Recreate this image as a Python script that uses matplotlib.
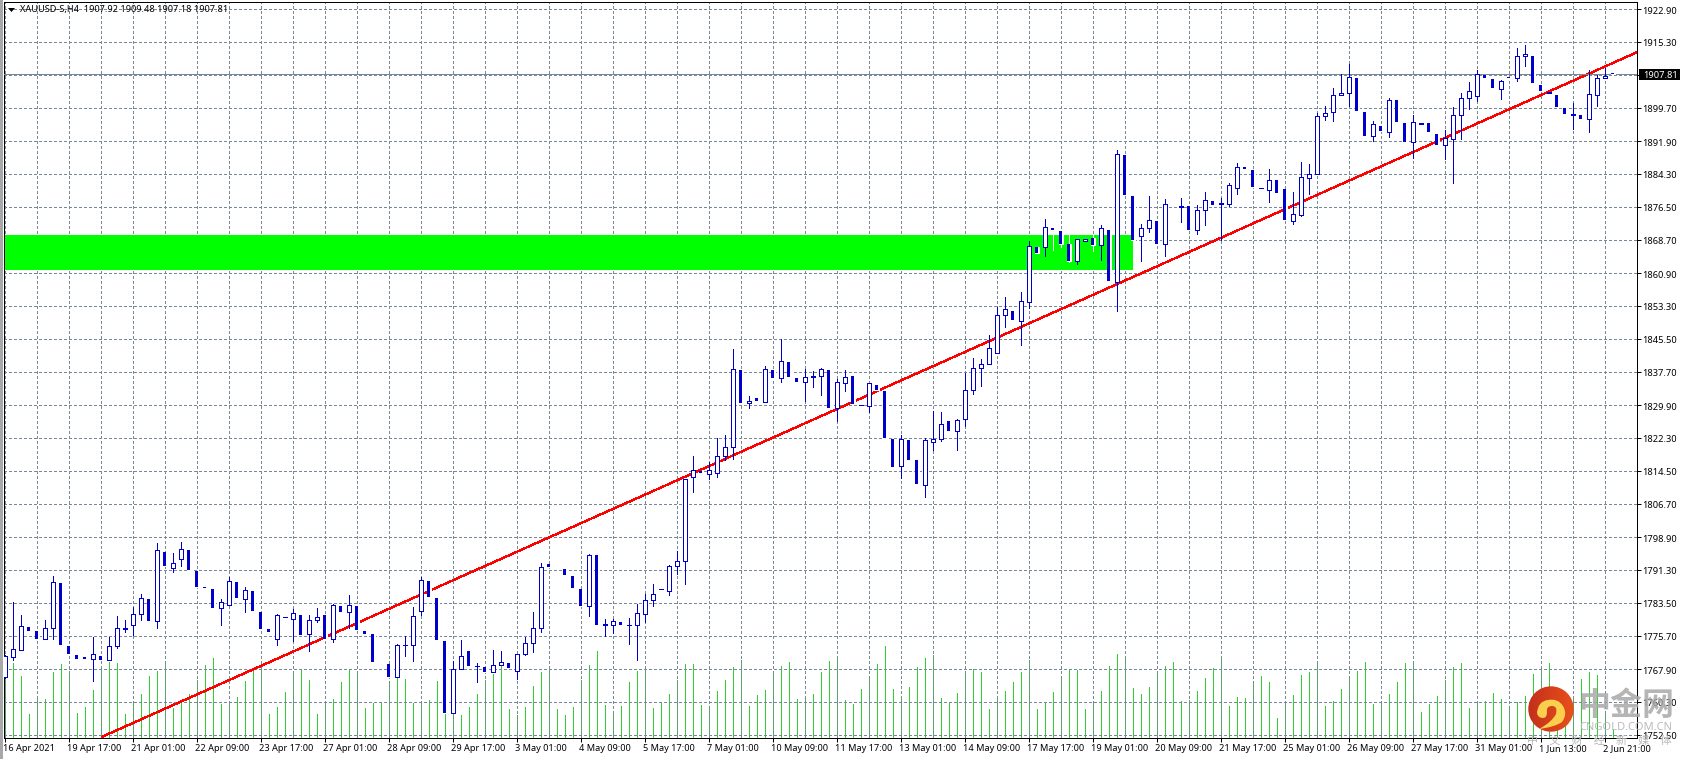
import matplotlib
matplotlib.use("Agg")
import matplotlib.pyplot as plt
import numpy as np
from matplotlib.colors import LinearSegmentedColormap
from matplotlib.patches import Circle, PathPatch, Polygon, Rectangle
from matplotlib.path import Path
from matplotlib.transforms import ScaledTranslation

# XAUUSD H4 candles, one row of ten per line
opens = [
    1766.1, 1770.8, 1772.4, 1777.9, 1776.9, 1775.0, 1777.6, 1788.2, 1773.4, 1771.3,
    1770.8, 1770.3, 1771.1, 1770.0, 1773.3, 1777.4, 1778.2, 1780.8, 1784.5, 1779.2,
    1795.5, 1791.8, 1793.8, 1796.0, 1791.0, 1787.2, 1786.8, 1782.2, 1783.1, 1788.5,
    1784.5, 1786.3, 1781.4, 1777.4, 1775.1, 1780.1, 1779.8, 1780.7, 1776.1, 1779.4,
    1780.7, 1775.0, 1782.8, 1781.3, 1782.8, 1776.9, 1776.2, 1769.4, 1769.2, 1766.0,
    1773.5, 1773.6, 1781.5, 1788.7, 1784.7, 1774.6, 1757.6, 1767.9, 1772.3, 1768.6,
    1768.4, 1767.2, 1768.9, 1769.4, 1767.4, 1771.6, 1774.0, 1777.5, 1792.7, 1791.8,
    1791.5, 1789.9, 1786.8, 1782.7, 1794.8, 1778.4, 1778.3, 1779.1, 1778.2, 1778.2,
    1781.0, 1784.1, 1786.7, 1786.4, 1792.1, 1793.3, 1813.0, 1814.5, 1813.7, 1814.1,
    1818.1, 1820.1, 1838.3, 1830.4, 1831.7, 1830.8, 1838.3, 1836.3, 1840.1, 1836.4,
    1835.5, 1836.5, 1836.7, 1838.3, 1829.2, 1835.1, 1836.8, 1829.9, 1829.7, 1834.7,
    1833.3, 1822.1, 1815.6, 1821.8, 1817.1, 1811.3, 1821.4, 1821.9, 1826.3, 1823.8,
    1826.6, 1833.5, 1838.7, 1839.6, 1842.1, 1851.1, 1852.0, 1849.8, 1854.1, 1867.1,
    1867.1, 1871.6, 1870.9, 1867.7, 1863.8, 1868.6, 1869.1, 1867.5, 1871.1, 1858.8,
    1888.8, 1879.1, 1869.6, 1871.5, 1873.3, 1867.7, 1877.3, 1876.6, 1876.8, 1871.0,
    1875.9, 1878.0, 1877.1, 1877.3, 1880.9, 1885.9, 1885.2, 1880.9, 1880.6, 1882.9,
    1880.8, 1873.3, 1874.7, 1883.4, 1884.2, 1897.8, 1898.7, 1902.7, 1903.2, 1906.9,
    1898.9, 1893.1, 1895.6, 1894.2, 1901.7, 1896.3, 1891.7, 1896.1, 1896.3, 1893.7,
    1891.0, 1892.4, 1898.0, 1902.2, 1902.5, 1907.5, 1906.6, 1904.3, 1907.0, 1906.8,
    1911.9, 1912.0, 1905.2, 1903.3, 1902.9, 1899.8, 1898.2, 1898.2, 1897.1, 1902.9,
    1906.7, 1907.92,
]
highs = [
    1771.3, 1783.8, 1780.6, 1777.9, 1776.9, 1779.5, 1789.8, 1788.2, 1773.4, 1771.3,
    1770.8, 1775.5, 1771.1, 1775.6, 1780.5, 1779.5, 1782.5, 1785.6, 1784.5, 1797.6,
    1795.5, 1795.3, 1797.9, 1796.0, 1791.0, 1787.2, 1786.8, 1784.5, 1789.6, 1788.5,
    1787.2, 1786.3, 1781.4, 1777.4, 1780.9, 1780.2, 1782.1, 1780.7, 1780.7, 1782.4,
    1780.7, 1783.3, 1782.8, 1785.4, 1782.8, 1776.9, 1776.2, 1769.4, 1769.2, 1773.8,
    1775.8, 1782.6, 1789.6, 1788.7, 1784.7, 1774.6, 1769.8, 1774.8, 1772.3, 1769.4,
    1768.4, 1772.5, 1772.3, 1769.4, 1771.5, 1775.5, 1781.4, 1792.8, 1792.7, 1791.8,
    1791.5, 1789.9, 1786.8, 1795.0, 1794.8, 1779.8, 1779.8, 1779.1, 1780.0, 1783.3,
    1785.6, 1788.0, 1786.8, 1792.4, 1795.7, 1812.7, 1818.1, 1814.5, 1816.6, 1822.3,
    1823.0, 1843.2, 1838.3, 1832.2, 1831.7, 1839.1, 1838.3, 1845.5, 1840.1, 1836.4,
    1838.5, 1837.9, 1838.7, 1838.3, 1836.1, 1838.3, 1836.8, 1830.0, 1835.1, 1834.7,
    1833.3, 1822.1, 1823.0, 1821.8, 1817.1, 1822.2, 1828.6, 1828.4, 1826.3, 1826.7,
    1837.5, 1841.1, 1840.8, 1846.5, 1853.0, 1855.3, 1852.0, 1856.5, 1868.4, 1867.1,
    1873.7, 1871.6, 1870.9, 1870.0, 1869.0, 1868.9, 1870.0, 1872.3, 1871.1, 1889.9,
    1888.8, 1879.1, 1872.6, 1879.1, 1873.3, 1878.4, 1877.3, 1878.7, 1876.8, 1876.9,
    1880.1, 1878.0, 1878.7, 1882.1, 1886.8, 1885.9, 1885.2, 1881.0, 1885.5, 1882.9,
    1880.8, 1880.1, 1887.1, 1886.6, 1898.5, 1900.3, 1904.5, 1907.8, 1910.1, 1906.9,
    1898.9, 1896.7, 1895.6, 1902.2, 1901.7, 1896.3, 1898.2, 1896.2, 1896.3, 1893.7,
    1894.6, 1900.0, 1903.3, 1905.9, 1908.7, 1907.5, 1906.6, 1906.4, 1907.0, 1913.8,
    1914.6, 1912.0, 1905.2, 1903.4, 1902.9, 1899.8, 1901.0, 1898.2, 1908.7, 1907.5,
    1909.1, 1909.48,
]
lows = [
    1765.9, 1770.0, 1772.4, 1776.9, 1775.1, 1775.0, 1775.1, 1773.7, 1771.5, 1770.4,
    1770.4, 1765.2, 1770.1, 1770.0, 1772.9, 1776.7, 1776.0, 1779.5, 1779.3, 1777.5,
    1792.1, 1790.8, 1792.2, 1791.3, 1787.3, 1787.1, 1782.4, 1778.4, 1783.1, 1784.7,
    1781.4, 1781.6, 1777.4, 1776.7, 1773.7, 1780.1, 1774.6, 1776.0, 1772.3, 1779.1,
    1775.1, 1774.4, 1781.4, 1777.7, 1777.2, 1776.2, 1769.7, 1769.3, 1766.1, 1766.0,
    1771.1, 1769.8, 1780.7, 1784.9, 1774.8, 1757.7, 1757.6, 1767.9, 1768.7, 1765.0,
    1767.3, 1767.2, 1768.9, 1768.3, 1765.6, 1771.3, 1772.0, 1776.7, 1792.0, 1791.7,
    1790.1, 1787.1, 1782.8, 1780.5, 1778.4, 1775.8, 1776.4, 1778.4, 1773.9, 1770.1,
    1779.1, 1782.8, 1786.7, 1785.4, 1790.3, 1788.0, 1809.6, 1814.1, 1812.7, 1813.1,
    1817.1, 1817.3, 1830.5, 1829.3, 1831.0, 1830.8, 1836.4, 1835.4, 1836.6, 1835.4,
    1831.0, 1834.3, 1832.4, 1829.3, 1826.3, 1833.3, 1830.3, 1829.9, 1828.4, 1833.6,
    1822.3, 1815.5, 1812.9, 1817.1, 1811.5, 1808.4, 1819.5, 1821.6, 1823.9, 1819.5,
    1825.1, 1832.6, 1834.5, 1839.6, 1842.1, 1848.4, 1850.0, 1844.0, 1852.8, 1865.6,
    1865.1, 1866.4, 1867.0, 1863.6, 1863.0, 1868.6, 1866.2, 1864.1, 1859.0, 1852.0,
    1879.4, 1868.8, 1863.7, 1870.7, 1867.9, 1865.0, 1877.2, 1873.0, 1871.1, 1870.2,
    1872.3, 1877.0, 1868.8, 1876.8, 1879.6, 1885.5, 1881.2, 1880.9, 1877.7, 1879.8,
    1873.5, 1872.6, 1874.3, 1879.6, 1884.2, 1897.0, 1896.7, 1902.7, 1900.3, 1899.1,
    1893.2, 1892.1, 1894.4, 1893.0, 1896.5, 1891.8, 1888.1, 1896.1, 1894.2, 1891.1,
    1887.8, 1882.2, 1892.5, 1899.6, 1901.4, 1906.9, 1904.5, 1901.9, 1906.9, 1906.0,
    1909.7, 1905.7, 1903.8, 1903.3, 1900.0, 1898.4, 1894.8, 1897.2, 1894.2, 1900.3,
    1906.7, 1907.18,
]
closes = [
    1771.1, 1772.6, 1778.1, 1776.9, 1775.1, 1777.6, 1788.4, 1773.7, 1771.5, 1770.4,
    1770.4, 1771.5, 1770.1, 1773.3, 1777.6, 1777.6, 1780.9, 1784.6, 1779.3, 1795.9,
    1792.1, 1792.8, 1796.1, 1791.3, 1787.3, 1787.1, 1782.4, 1783.7, 1788.6, 1784.7,
    1786.6, 1781.6, 1777.4, 1776.7, 1780.6, 1780.2, 1781.1, 1776.0, 1779.5, 1780.2,
    1775.1, 1783.0, 1781.4, 1783.0, 1777.2, 1776.2, 1769.7, 1769.3, 1766.1, 1773.6,
    1773.6, 1780.4, 1788.9, 1784.9, 1774.8, 1757.7, 1767.9, 1771.0, 1768.7, 1768.7,
    1767.3, 1768.9, 1769.6, 1768.3, 1771.5, 1774.1, 1777.6, 1791.9, 1792.0, 1791.7,
    1790.1, 1787.1, 1782.8, 1794.7, 1778.4, 1778.6, 1779.2, 1778.4, 1778.3, 1781.1,
    1784.2, 1785.6, 1786.8, 1792.1, 1793.3, 1812.7, 1814.7, 1814.1, 1814.7, 1818.0,
    1820.1, 1838.4, 1830.5, 1830.9, 1831.0, 1838.4, 1836.4, 1840.3, 1836.6, 1835.4,
    1836.5, 1836.8, 1838.4, 1829.3, 1835.4, 1836.5, 1830.3, 1830.0, 1835.1, 1833.6,
    1822.3, 1815.5, 1822.0, 1817.1, 1811.5, 1821.7, 1822.0, 1825.5, 1823.9, 1826.4,
    1833.5, 1838.7, 1839.6, 1843.3, 1851.1, 1852.5, 1850.0, 1854.4, 1867.3, 1865.6,
    1871.8, 1871.1, 1867.8, 1863.9, 1869.0, 1868.9, 1867.5, 1871.5, 1859.0, 1888.9,
    1879.4, 1868.8, 1871.5, 1873.4, 1867.9, 1877.2, 1877.2, 1876.7, 1871.1, 1875.8,
    1878.1, 1877.0, 1877.5, 1881.6, 1885.9, 1885.5, 1881.2, 1881.0, 1882.8, 1879.8,
    1873.5, 1874.8, 1883.5, 1884.2, 1897.8, 1898.6, 1902.8, 1903.2, 1907.0, 1899.1,
    1893.2, 1896.0, 1894.4, 1901.6, 1896.5, 1891.8, 1896.4, 1896.2, 1894.2, 1891.1,
    1892.8, 1898.1, 1902.1, 1903.7, 1907.8, 1906.9, 1904.5, 1906.1, 1906.9, 1911.9,
    1912.4, 1905.7, 1903.8, 1903.4, 1900.0, 1898.4, 1898.3, 1897.2, 1903.0, 1906.8,
    1907.3, 1907.81,
]
volumes = [
    60, 75, 62, 24, 40, 39, 66, 74, 66, 25, 31, 48, 69, 76, 75, 24, 35, 44, 62, 67,
    75, 30, 35, 44, 58, 73, 80, 34, 35, 41, 57, 69, 71, 24, 31, 46, 64, 69, 58, 24,
    34, 39, 56, 68, 65, 30, 35, 36, 57, 63, 59, 35, 34, 38, 57, 70, 63, 23, 31, 44,
    58, 64, 72, 29, 23, 31, 52, 66, 69, 29, 23, 31, 58, 73, 87, 33, 24, 32, 56, 67,
    68, 30, 35, 44, 58, 74, 74, 33, 30, 47, 58, 71, 78, 32, 43, 48, 64, 72, 76, 39,
    40, 44, 66, 77, 82, 38, 34, 49, 61, 74, 92, 49, 41, 51, 71, 80, 83, 40, 36, 45,
    66, 69, 66, 29, 40, 47, 56, 66, 78, 29, 36, 46, 59, 69, 68, 29, 36, 47, 72, 84,
    82, 50, 44, 51, 67, 72, 76, 37, 38, 47, 60, 70, 79, 32, 41, 40, 54, 62, 56, 20,
    37, 43, 63, 66, 77, 32, 37, 49, 61, 67, 76, 34, 36, 44, 56, 75, 77, 26, 34, 42,
    58, 71, 75, 30, 35, 37, 45, 39, 29, 36, 42, 64, 69, 75, 45, 42, 42, 59, 66, 63,
    25, 9,
]

x_labels = [
    "16 Apr 2021", "19 Apr 17:00", "21 Apr 01:00", "22 Apr 09:00", "23 Apr 17:00",
    "27 Apr 01:00", "28 Apr 09:00", "29 Apr 17:00", "3 May 01:00", "4 May 09:00",
    "5 May 17:00", "7 May 01:00", "10 May 09:00", "11 May 17:00", "13 May 01:00",
    "14 May 09:00", "17 May 17:00", "19 May 01:00", "20 May 09:00", "21 May 17:00",
    "25 May 01:00", "26 May 09:00", "27 May 17:00", "31 May 01:00", "1 Jun 13:00",
    "2 Jun 21:00",
]
y_ticks = [
    1922.90, 1915.30, 1907.50, 1899.70, 1891.90, 1884.30, 1876.50, 1868.70, 1860.90,
    1853.30, 1845.50, 1837.70, 1829.90, 1822.30, 1814.50, 1806.70, 1798.90, 1791.30,
    1783.50, 1775.70, 1767.90, 1760.30, 1752.50,
]
trend_x = [12.25, 204]
trend_y = [1752.1, 1912.8]
zone_x = [-0.2, 141]
zone_y = [1861.75, 1869.97]
last_price = 1907.81

BLUE = "#0000cd"
GRID = "#778899"
W, H = 1685, 759
LEFT, RIGHT, TOP, BOTTOM = 4, 1637, 2, 738
PX = 0.72  # one pixel in points at dpi 100

plt.rcParams["font.family"] = ["Noto Sans", "DejaVu Sans"]
fig = plt.figure(figsize=(W / 100, H / 100), dpi=100, facecolor="white")
rect = [LEFT / W, 1 - BOTTOM / H, (RIGHT - LEFT) / W, (BOTTOM - TOP) / H]

# volumes sit on their own scale below the price axes
ax_vol = fig.add_axes(rect, zorder=1)
ax = fig.add_axes(rect, zorder=2)
ax.patch.set_visible(False)
ax_vol.axis("off")

idx = np.arange(len(closes))
xlim = ((LEFT - 4.5) / 8, (RIGHT - 4.5) / 8)
ax.set_xlim(xlim)
ax_vol.set_xlim(xlim)
ax.set_ylim(1925.17 - 0.2349 * (BOTTOM + 0.2), 1925.17 - 0.2349 * (TOP + 0.2))
ax_vol.set_ylim(0, BOTTOM - TOP)

ax_vol.vlines(idx, 0, volumes, color="#32cd32", lw=PX, antialiased=False)

ax.add_patch(Rectangle((zone_x[0], zone_y[0]), zone_x[1] - zone_x[0], zone_y[1] - zone_y[0],
                       facecolor="#00ff00", edgecolor="none", zorder=1))

ax.set_xticks(idx[::8])
ax.set_xticks(np.arange(4, 204, 8), minor=True)
ax.set_xticklabels(x_labels, fontsize=6.6, ha="left")
ax.set_yticks(y_ticks)
ax.set_yticklabels(["" if v == 1907.50 else f"{v:.2f}" for v in y_ticks], fontsize=6.7)
ax.yaxis.tick_right()
ax.tick_params(axis="both", which="major", length=3, width=PX, pad=1.5, color="black")
ax.tick_params(axis="y", pad=0.5)
ax.tick_params(axis="x", which="minor", length=0)
shift_x = ScaledTranslation(-1.5 / 100, 0, fig.dpi_scale_trans)
for lab in ax.get_xticklabels():
    lab.set_transform(lab.get_transform() + shift_x)
shift_y = ScaledTranslation(0, -0.7 / 100, fig.dpi_scale_trans)
for lab in ax.get_yticklabels():
    lab.set_transform(lab.get_transform() + shift_y)
ax.grid(True, which="both", color=GRID, lw=PX, linestyle=(0, (2.5, 2.5)), antialiased=False, zorder=2)
ax.set_axisbelow(True)
for sp in ax.spines.values():
    sp.set_linewidth(PX)
    sp.set_color("black")

ax.plot(trend_x, trend_y, color="#ff0000", lw=1.3 * PX, antialiased=False, zorder=3)
ax.axhline(last_price, color=GRID, lw=PX, antialiased=False, zorder=3)

o, h, l, c = map(np.array, (opens, highs, lows, closes))
up = c >= o
ax.vlines(idx[up], l[up], h[up], color=BLUE, lw=PX, antialiased=False, zorder=4)
ax.vlines(idx[~up], l[~up], h[~up], color="white", lw=PX, antialiased=False, zorder=4)
ax.bar(idx[up], (c - o)[up], 0.5, bottom=o[up], facecolor="white", edgecolor=BLUE,
       lw=PX, antialiased=False, zorder=5)
# falling bars: white outline, then the blue fill on top so thin ones survive
ax.bar(idx[~up], (o - c)[~up], 0.5, bottom=c[~up], facecolor="white", edgecolor="white",
       lw=PX, antialiased=False, zorder=5)
ax.bar(idx[~up], (o - c)[~up], 0.375, bottom=c[~up], facecolor=BLUE, edgecolor="none",
       antialiased=False, zorder=6)

# everything below is placed in picture pixels: header, price box, watermark
top = fig.add_axes([0, 0, 1, 1], zorder=5)
top.axis("off")

top.add_patch(Rectangle((0, 0), 2.5, H, facecolor="#a8a8a8", edgecolor="none"))
top.add_patch(Polygon([(8, 8), (15, 8), (11.5, 12)], facecolor="black", edgecolor="none"))
top.text(20, 9.5, "XAUUSD-S,H4  1907.92 1909.48 1907.18 1907.81", fontsize=6.6, va="center", color="black")

top.add_patch(Rectangle((1639, 69), 41, 11, facecolor="black", edgecolor="none"))
top.text(1643, 75, f"{last_price:.2f}", fontsize=6.7, va="center", color="white")

# logo: shaded red disc, yellow swirl, grey lettering
disc = Circle((1551, 709), 22.7, transform=top.transData, facecolor="none", edgecolor="none")
top.add_patch(disc)
logo_cmap = LinearSegmentedColormap.from_list("logo", ["#c42f1c", "#e8501a"])
shade = top.imshow(np.linspace(0, 1, 40).reshape(1, -1), cmap=logo_cmap, aspect="auto",
                   extent=(1528, 1574, 732, 686), zorder=1)
shade.set_clip_path(disc)
swirl = Path([(1537, 713), (1538, 701), (1548, 700), (1558, 698), (1563, 706), (1568, 714),
              (1562, 722), (1555, 727), (1539, 729), (1552, 722), (1556, 714), (1558, 706),
              (1552, 706), (1546, 706), (1547, 712), (1547, 718), (1543, 718), (1538, 718),
              (1537, 713)],
             [Path.MOVETO] + [Path.CURVE3] * 18)
top.add_patch(PathPatch(swirl, facecolor="#fbcf4e", edgecolor="none", zorder=2))

wm = ["Noto Sans CJK SC", "DejaVu Sans"]
top.text(1626, 706, "中金网", fontsize=23, fontweight="bold", family=wm, ha="center", va="center",
         color="#a8a8a8", alpha=0.85)
top.text(1626, 727.5, "CNGOLD.COM.CN", fontsize=8, ha="center", va="center", color="#bbbbbb")
top.text(1599, 740, "中\u3000文\u3000财\u3000经\u3000新\u3000媒\u3000体", fontsize=8, family=wm,
         ha="center", va="center", color="#b8b8b8")

top.set_xlim(0, W)
top.set_ylim(H, 0)

fig.savefig("out.png", dpi=100)
